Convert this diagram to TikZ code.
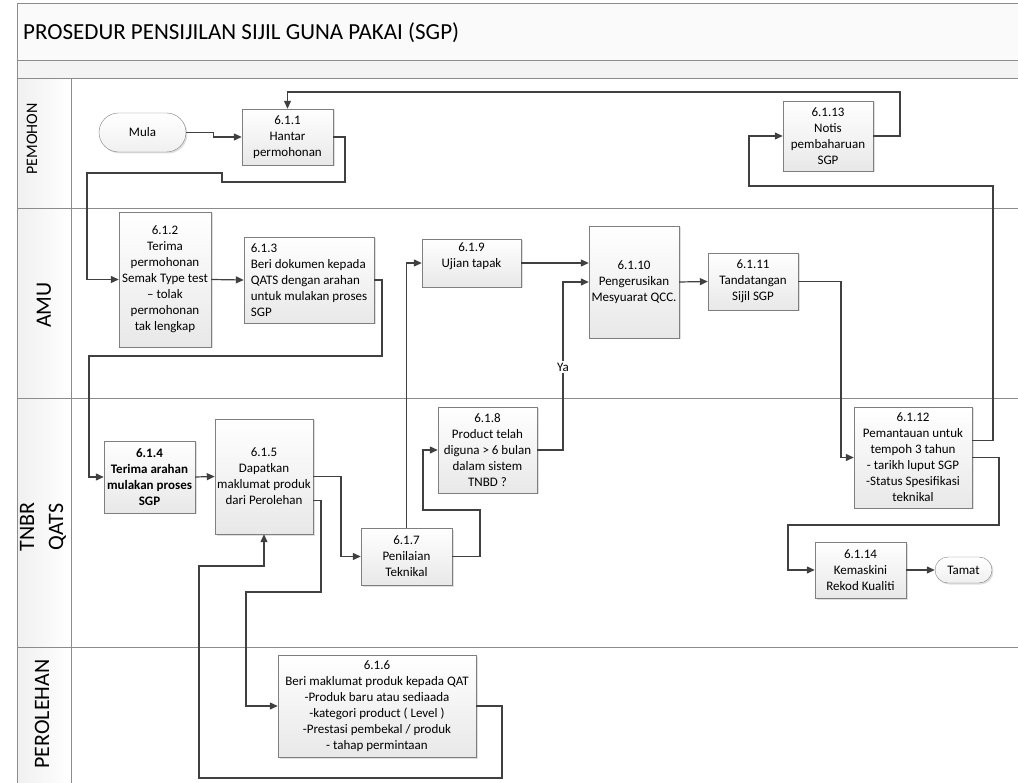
\documentclass[tikz,border=0pt]{standalone}
\usepackage{fontspec}
\setmainfont{Carlito}
\usetikzlibrary{arrows.meta,shapes.misc,shadows}

\definecolor{lanegray}{HTML}{8C8C8C}
\definecolor{linegray}{HTML}{404040}
\definecolor{boxborder}{HTML}{7F7F7F}

\begin{document}
\begin{tikzpicture}[x=1pt, y=-1pt,
    boxfont/.style={font=\fontsize{13}{16}\selectfont},
    proc/.style={draw=boxborder, rectangle, top color=white, bottom color=gray!18, align=center, inner sep=2pt, boxfont, drop shadow={shadow xshift=1.5pt, shadow yshift=-1.5pt, opacity=0.25}},
    term/.style={draw=boxborder, rounded rectangle, top color=white, bottom color=gray!12, inner sep=2pt, boxfont, drop shadow={shadow xshift=1.5pt, shadow yshift=-1.5pt, opacity=0.25}},
    flow/.style={draw=linegray, line width=1.2pt, -{Triangle[length=8pt,width=7pt]}},
    lane/.style={draw=lanegray, line width=1pt},
    lanelabel/.style={rotate=90, font=\fontsize{22}{27}\selectfont}]
        \useasboundingbox (0,0) rectangle (1018,783);
        % swimlanes
        \fill[gray!4] (17,4) rectangle (1018,61);
        \fill[gray!9] (17,61) rectangle (1018,79);
        \shade[left color=gray!12, right color=white] (17,79) rectangle (71,783);
        \draw[lane] (1018,4) -- (17,4) -- (17,783);
        \draw[lane] (17,61) -- (1018,61);
        \draw[lane] (17,79) -- (1018,79);
        \draw[lane] (17,209) -- (1018,209);
        \draw[lane] (17,399) -- (1018,399);
        \draw[lane] (17,647) -- (1018,647);
        \draw[lane] (71,79) -- (71,783);

        \node[anchor=base west, inner sep=0pt, font=\fontsize{23}{28}\selectfont] (title) at (23,40) {PROSEDUR PENSIJILAN SIJIL GUNA PAKAI (SGP)};
        \node[rotate=90, font=\fontsize{16}{19}\selectfont] (pemohon) at (32,139) {PEMOHON};
        \node[lanelabel] (amu) at (44,305) {AMU};
        \node[lanelabel, align=center, font=\fontsize{22}{29}\selectfont] (qats) at (43,527) {TNBR\\QATS};
        \node[lanelabel] (perolehan) at (42,714) {PEROLEHAN};

        % steps
        \node[term, minimum width=91pt, minimum height=39pt] (mula) at (142.5,132.5) {Mula};
        \node[proc, minimum width=91pt, minimum height=56pt] (n611) at (287.5,137) {6.1.1\\Hantar\\permohonan};
        \node[proc, minimum width=90pt, minimum height=70pt] (n6113) at (828,136) {6.1.13\\Notis\\pembaharuan\\SGP};
        \node[proc, minimum width=92pt, minimum height=135pt] (n612) at (165,279.5) {6.1.2\\Terima\\permohonan\\Semak Type test\\-- tolak\\permohonan\\tak lengkap};
        \node[proc, align=left, minimum width=130pt, minimum height=86pt] (n613) at (309,280) {6.1.3\\Beri dokumen kepada\\QATS dengan arahan\\untuk mulakan proses\\SGP};
        \node[proc, minimum width=99pt, minimum height=48pt] (n619) at (471.5,263) {\parbox[c][40pt][t]{90pt}{\centering 6.1.9\\Ujian tapak}};
        \node[proc, minimum width=90pt, minimum height=112pt] (n6110) at (634,282) {6.1.10\\Pengerusikan\\Mesyuarat QCC.};
        \node[proc, minimum width=90pt, minimum height=57pt] (n6111) at (753,281.5) {6.1.11\\Tandatangan\\Sijil SGP};
        \node[proc, font=\fontsize{13}{16}\selectfont\bfseries, minimum width=91pt, minimum height=72pt] (n614) at (149.5,477) {6.1.4\\Terima arahan\\mulakan proses\\SGP};
        \node[proc, minimum width=98pt, minimum height=115pt] (n615) at (264,476.5) {6.1.5\\Dapatkan\\maklumat produk\\dari Perolehan};
        \node[proc, minimum width=91pt, minimum height=57pt] (n617) at (406.5,556.5) {6.1.7\\Penilaian\\Teknikal};
        \node[proc, minimum width=99pt, minimum height=86pt] (n618) at (487.5,450) {6.1.8\\Product telah\\diguna > 6 bulan\\dalam sistem\\TNBD ?};
        \node[proc, minimum width=118pt, minimum height=101pt] (n6112) at (913,457.5) {6.1.12\\Pemantauan untuk\\tempoh 3 tahun\\- tarikh luput SGP\\-Status Spesifikasi\\teknikal};
        \node[proc, minimum width=91pt, minimum height=56pt] (n6114) at (860.5,570) {6.1.14\\Kemaskini\\Rekod Kualiti};
        \node[term, minimum width=61pt, minimum height=26pt] (tamat) at (963.5,570) {Tamat};
        \node[proc, minimum width=198pt, minimum height=102pt] (n616) at (377,706) {6.1.6\\Beri maklumat produk kepada QAT\\-Produk baru atau sediaada\\-kategori product ( Level )\\-Prestasi pembekal / produk\\- tahap permintaan};

        % flow
        \draw[flow] (mula.east) -- ++(27,0) |- (n611.west);
        \draw[flow] (n611.east) -| (345,182) -| (222,173) -| (87,220) |- (n612.west);
        \draw[flow] (n612.east) -- (n613.west);
        \draw[flow] (n613.east) -| (382,356) -| (89,420) |- (n614.west);
        \draw[flow] (n614.east) -- (n615.west);
        \draw[flow] (n615.east) -| (341,500) |- (n617.west);
        \draw[flow] ([yshift=-24pt]n615.east) -| (321,592) -| (246,650) |- (n616.west);
        \draw[flow] (n616.east) -| (502,778) -| (199,566) -| (n615.south);
        \draw[flow] (n617.north) |- (n619.west);
        \draw[flow] (n617.east) -| (480,510) -| (423,480) |- (n618.west);
        \draw[flow] (n619.east) -- (n6110.west |- n619.east);
        \draw[flow] (n618.east) -| (563,330) |- (n6110.west);
        \node[fill=white, inner sep=1.5pt, boxfont] (ya) at (563,367) {Ya};
        \draw[flow] (n6110.east) -- (n6111.west);
        \draw[flow] (n6111.east) -| (841,400) |- (n6112.west);
        \draw[flow] ([yshift=17pt]n6112.east) -| (993,186) -| (749,150) |- (n6113.west);
        \draw[flow] (n6113.east) -| (900,92) -| (n611.north);
        \draw[flow] (n6112.east) -| (999,525) -| (788,550) |- (n6114.west);
        \draw[flow] (n6114.east) -- (tamat.west);
    \end{tikzpicture}
\end{document}
